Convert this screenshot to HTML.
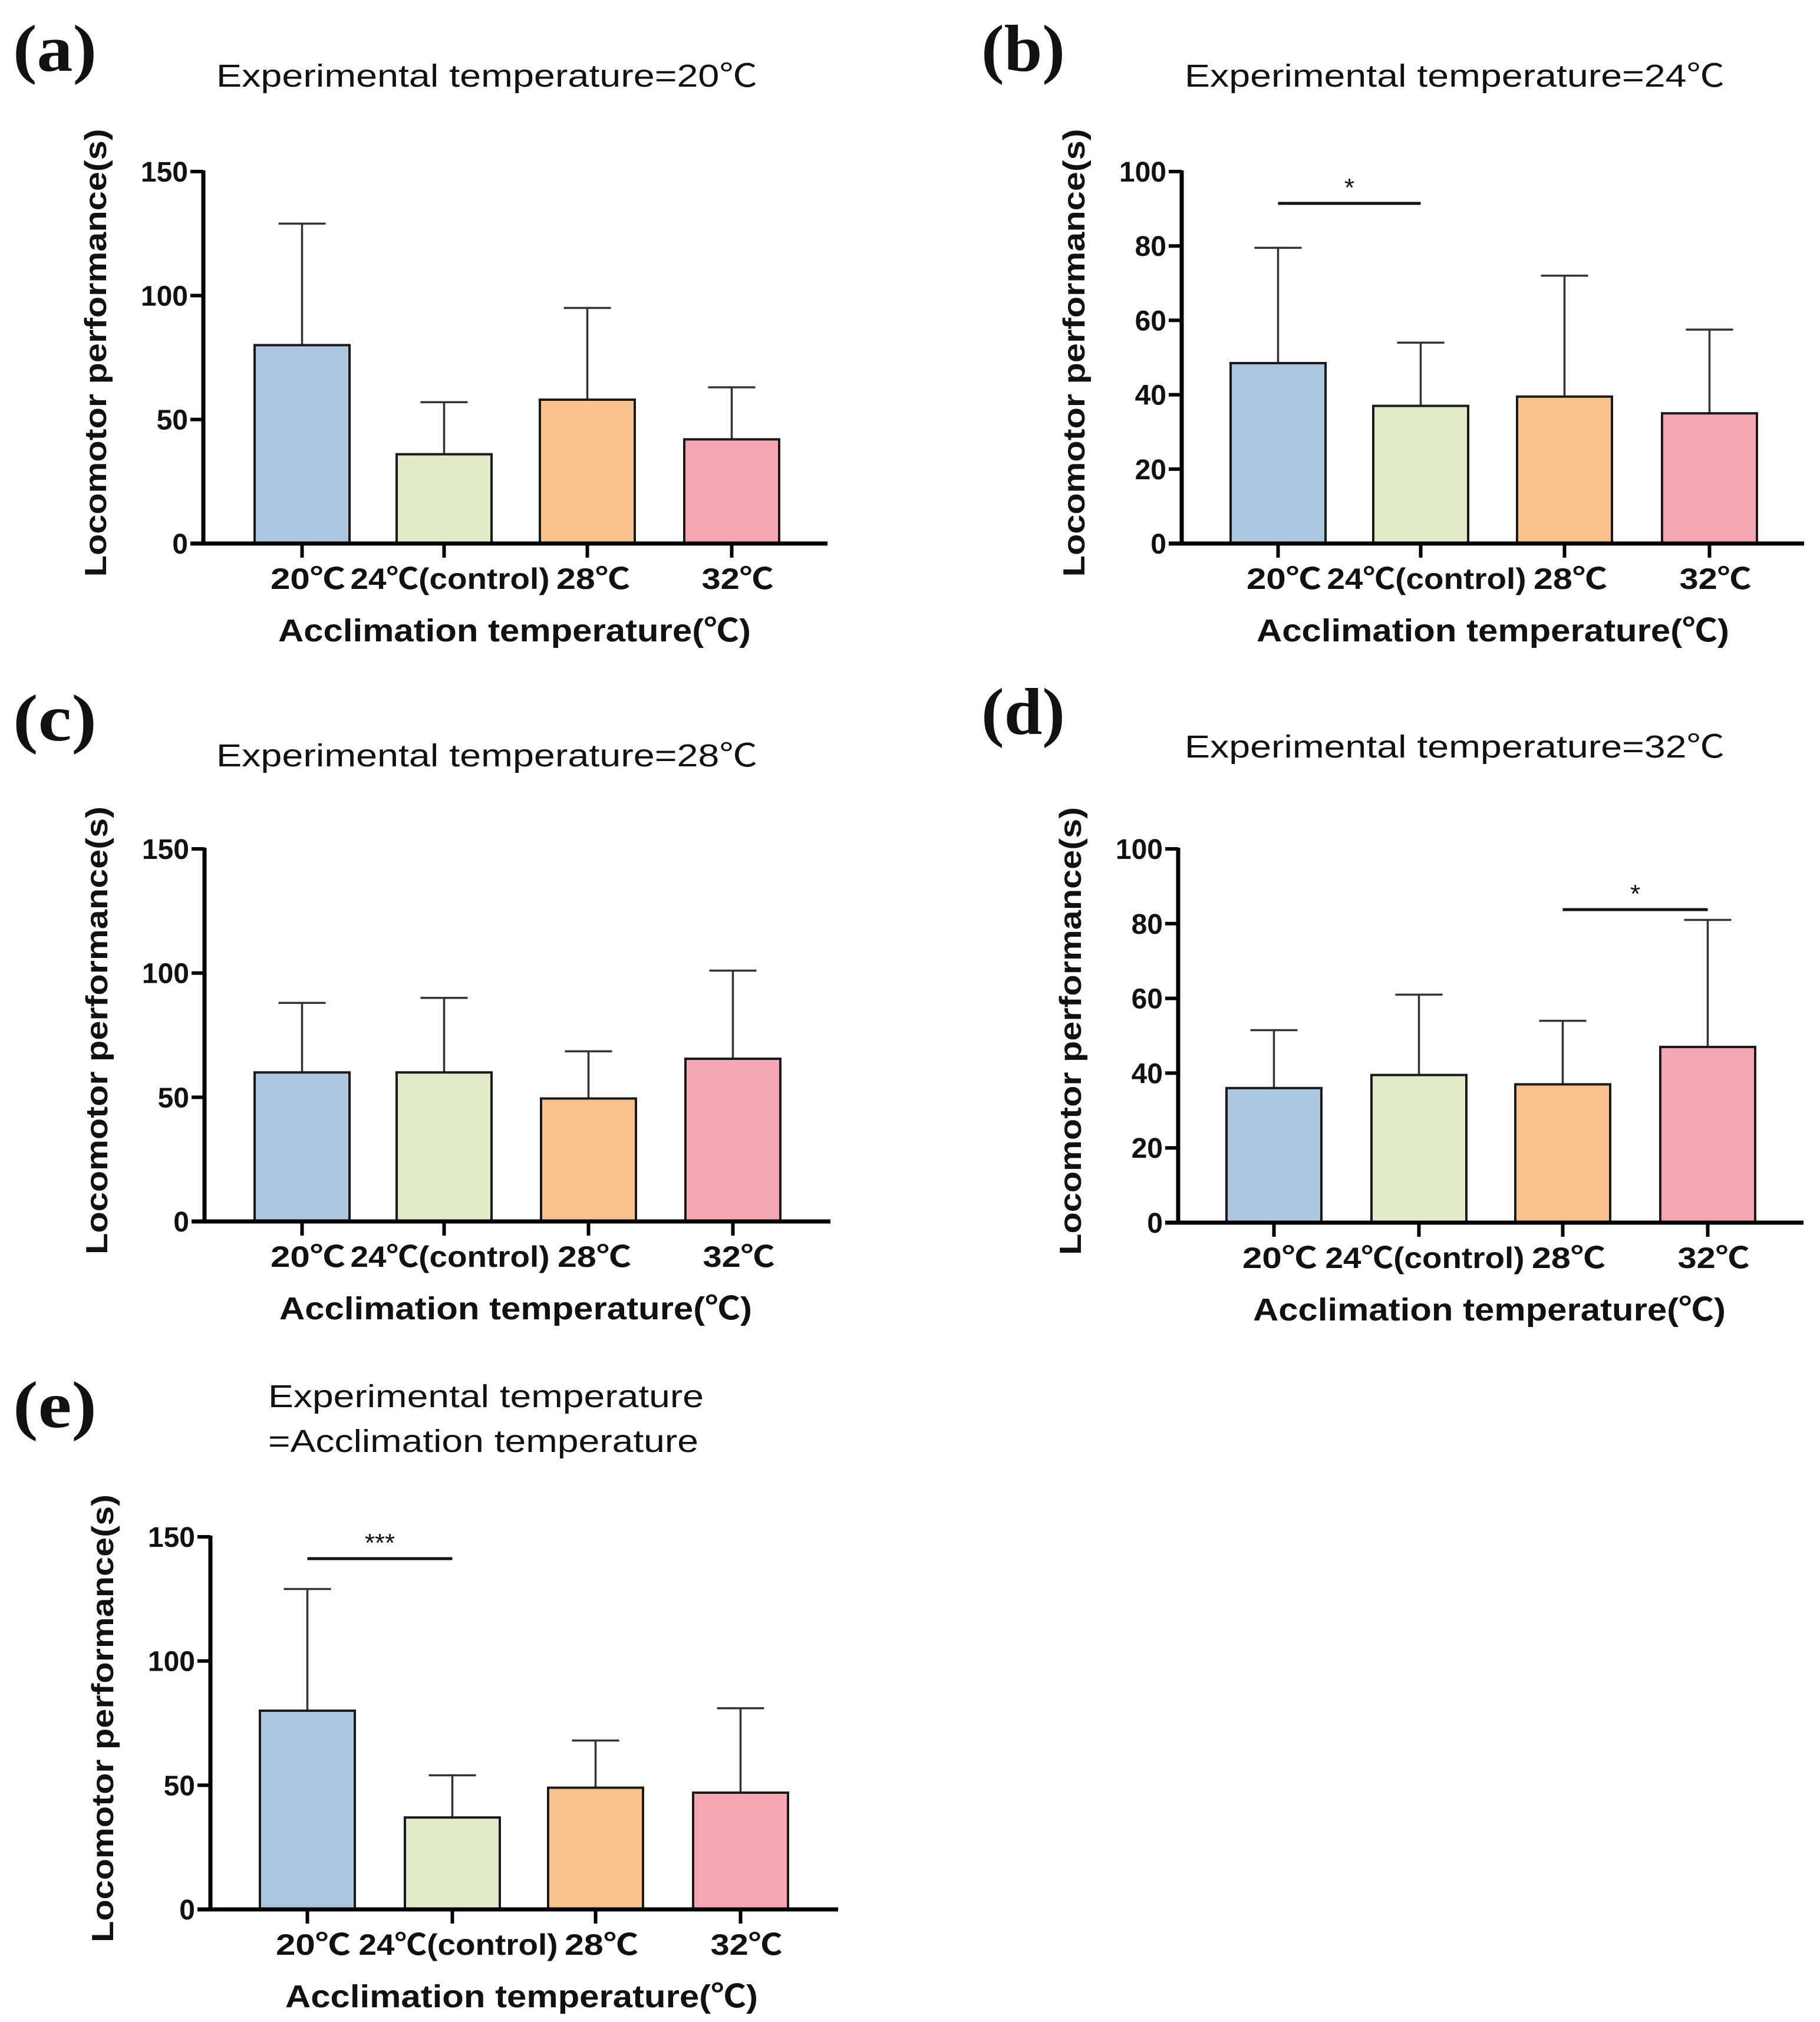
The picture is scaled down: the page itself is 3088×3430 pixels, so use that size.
<!DOCTYPE html>
<html><head><meta charset="utf-8"><style>
html,body{margin:0;padding:0;background:#fff;}
svg{display:block;}
text{font-family:"Liberation Sans",Arial,"Noto Sans CJK SC",sans-serif;fill:#111;}
text.serif{font-family:"Liberation Serif","Times New Roman",serif;}
</style></head><body>
<svg id="fig" width="3088" height="3430" viewBox="0 0 3088 3430" xmlns="http://www.w3.org/2000/svg"></svg>
<script>
// ---- data ----
const categories = ["20℃","24℃(control)","28℃","32℃"];
const barColors = ["#adc6df","#e0eac6","#f9c28d","#f6a6b2"];
const meansA = [80, 36, 58, 42];
const errTopA = [129, 57, 95, 63];
const meansB = [48.5, 37, 39.5, 35];
const errTopB = [79.5, 54, 72, 57.5];
const meansC = [60, 60, 49.5, 65.5];
const errTopC = [88, 90, 68.5, 101];
const meansD = [36, 39.5, 37, 47];
const errTopD = [51.5, 61, 54, 81];
const meansE = [80, 37, 49, 47];
const errTopE = [129, 54, 68, 81];
const ticks150 = [0, 50, 100, 150];
const ticks100 = [0, 20, 40, 60, 80, 100];

const NS = "http://www.w3.org/2000/svg";
const svg = document.getElementById('fig');
function mk(tag, attrs, parent, txt){
  const e = document.createElementNS(NS, tag);
  for (const k in attrs) e.setAttribute(k, attrs[k]);
  if (txt !== undefined) e.textContent = txt;
  (parent || svg).appendChild(e);
  return e;
}

const panels = [
  {id:'a', ax:345, top:291, zero:922, end:1404, ymax:150, ticks:ticks150, means:meansA, errs:errTopA,
   bars:[432,673,916,1161], title:["Experimental temperature=20℃"], tcx:826, tby:147, tw:918,
   lx:22, lby:120, sig:null},
  {id:'b', ax:2005, top:291, zero:922, end:3061, ymax:100, ticks:ticks100, means:meansB, errs:errTopB,
   bars:[2088,2330,2574,2820], title:["Experimental temperature=24℃"], tcx:2468, tby:147, tw:916,
   lx:1665, lby:120, sig:{from:0,to:1,y:345,label:"*"}},
  {id:'c', ax:347, top:1440, zero:2072, end:1409, ymax:150, ticks:ticks150, means:meansC, errs:errTopC,
   bars:[432,673,918,1163], title:["Experimental temperature=28℃"], tcx:826, tby:1300, tw:918,
   lx:22, lby:1256, sig:null},
  {id:'d', ax:1999, top:1440, zero:2074, end:3060, ymax:100, ticks:ticks100, means:meansD, errs:errTopD,
   bars:[2081,2327,2571,2817], title:["Experimental temperature=32℃"], tcx:2468, tby:1285, tw:916,
   lx:1665, lby:1245, sig:{from:2,to:3,y:1543,label:"*"}},
  {id:'e', ax:357, top:2607, zero:3239, end:1422, ymax:150, ticks:ticks150, means:meansE, errs:errTopE,
   bars:[441,687,930,1176], title:["Experimental temperature","=Acclimation temperature"], tleft:455, tby:2387, tws:[739,730],
   lx:22, lby:2421, sig:{from:0,to:1,y:2644,label:"***"}}
];
const BW = 161;
const labW = [127, 338, 125, 122];

panels.forEach(p => {
  const g = mk('g', {});
  
  
  const yS = v => p.zero - (v / p.ymax) * (p.zero - p.top);

  const pl = mk('text', {class:'serif', x:p.lx, y:p.lby, 'font-size':112, 'font-weight':'bold', textLength:142, lengthAdjust:'spacingAndGlyphs'}, g, '(' + p.id + ')');
  
  

  if (p.title.length === 1) {
    const t = mk('text', {x:p.tcx, y:p.tby, 'text-anchor':'middle', 'font-size':54, textLength:p.tw, lengthAdjust:'spacingAndGlyphs'}, g, p.title[0]);
    
    
  } else {
    p.title.forEach((s, i) => {
      const t = mk('text', {x:p.tleft, y:p.tby + i * 76, 'font-size':54, textLength:p.tws[i], lengthAdjust:'spacingAndGlyphs'}, g, s);
      
      
    });
  }

  p.means.forEach((m, i) => {
    const x = p.bars[i], cx = x + BW / 2;
    const yt = yS(m), ye = yS(p.errs[i]);
    const el = mk('line', {x1:cx, y1:yt, x2:cx, y2:ye, stroke:'#333', 'stroke-width':3.5}, g);
    
    
    const cap = mk('line', {x1:cx - 40, y1:ye, x2:cx + 40, y2:ye, stroke:'#333', 'stroke-width':3.5}, g);
    
    
    const r = mk('rect', {x:x, y:yt, width:BW, height:p.zero - yt, fill:barColors[i], stroke:'#1a1a1a', 'stroke-width':4}, g);
    
    
  });

  const ya = mk('line', {x1:p.ax, y1:p.top - 2, x2:p.ax, y2:p.zero + 3, stroke:'#000', 'stroke-width':7}, g);
  
  
  const xa = mk('line', {x1:p.ax - 22, y1:p.zero, x2:p.end, y2:p.zero, stroke:'#000', 'stroke-width':7}, g);
  
  

  p.ticks.forEach(v => {
    const y = yS(v);
    const tk = mk('line', {x1:p.ax - 22, y1:y, x2:p.ax, y2:y, stroke:'#000', 'stroke-width':6}, g);
    
    
    const tl = mk('text', {x:p.ax - 26, y:y + 17, 'text-anchor':'end', 'font-size':48, 'font-weight':'bold'}, g, String(v));
    
    
  });

  categories.forEach((c, i) => {
    const cx = p.bars[i] + BW / 2;
    const tk = mk('line', {x1:cx, y1:p.zero, x2:cx, y2:p.zero + 24, stroke:'#000', 'stroke-width':6}, g);
    
    
    const tl = mk('text', {x:cx + 10, y:p.zero + 77, 'text-anchor':'middle', 'font-size':50, 'font-weight':'bold', textLength:labW[i], lengthAdjust:'spacingAndGlyphs'}, g, c);
    
    
  });

  const xt = mk('text', {x:p.ax + 528, y:p.zero + 166, 'text-anchor':'middle', 'font-size':54, 'font-weight':'bold', textLength:802, lengthAdjust:'spacingAndGlyphs'}, g, 'Acclimation temperature(℃)');
  
  

  const ycx = p.ax - 165, ycy = (p.top + p.zero) / 2 - 8;
  const yt = mk('text', {x:ycx, y:ycy, 'text-anchor':'middle', 'font-size':52, 'font-weight':'bold', textLength:760, lengthAdjust:'spacingAndGlyphs', transform:'rotate(-90 ' + ycx + ' ' + ycy + ')'}, g, 'Locomotor performance(s)');
  
  

  if (p.sig) {
    const x1 = p.bars[p.sig.from] + BW / 2, x2 = p.bars[p.sig.to] + BW / 2;
    const sl = mk('line', {x1:x1, y1:p.sig.y, x2:x2, y2:p.sig.y, stroke:'#111', 'stroke-width':5}, g);
    
    
    const st = mk('text', {x:(x1 + x2) / 2, y:p.sig.y - 12, 'text-anchor':'middle', 'font-size':44}, g, p.sig.label);
    
    
  }
});
</script>
</body></html>
